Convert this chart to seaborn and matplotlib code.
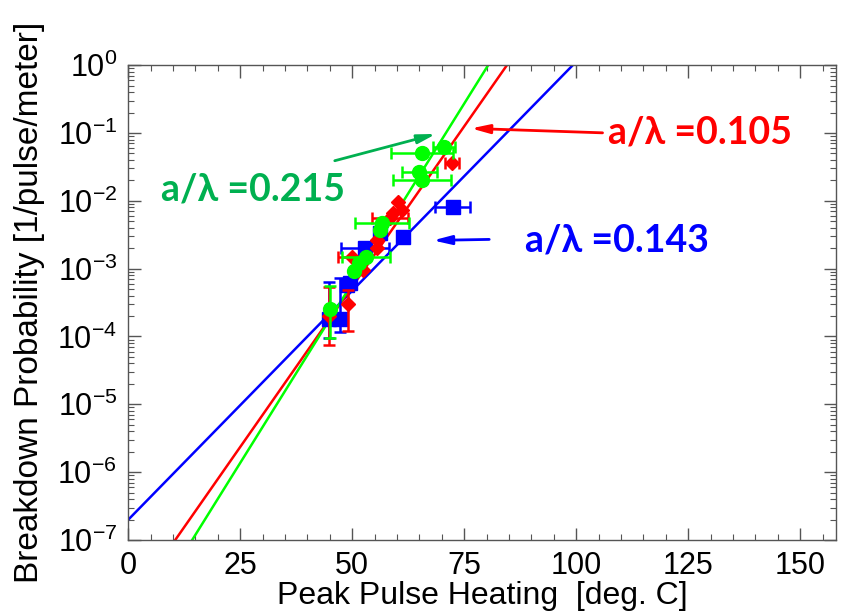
import numpy as np
import seaborn as sns
import matplotlib
matplotlib.use('Agg')
import matplotlib.pyplot as plt
import pandas as pd
from matplotlib.ticker import MultipleLocator, LogLocator, NullFormatter

sns.set_theme(style="ticks")
plt.rcParams['font.family'] = ['Liberation Sans', 'DejaVu Sans']
plt.rcParams['mathtext.fontset'] = 'custom'
plt.rcParams['mathtext.rm'] = 'Liberation Sans'
plt.rcParams['mathtext.default'] = 'regular'
plt.rcParams['text.color'] = 'black'
plt.rcParams['axes.labelcolor'] = 'black'
plt.rcParams['xtick.labelcolor'] = 'black'
plt.rcParams['ytick.labelcolor'] = 'black'

# measured points (heating in deg C, breakdown prob in 1/pulse/meter)
blue_x = [72.4, 61.3, 56.3, 52.9, 49.6, 48.8, 44.9, 47.2]
blue_y = [0.0080, 0.0029, 0.0034, 0.0020, 0.00062, 0.00058, 0.00018, 0.00018]
blue_xerr = [4.0, 0, 0, 5.4, 0, 0, 0, 0]
blue_ylo = [0, 0, 0, 0, 0, 0, 0.000085, 0.000063]
blue_yhi = [0, 0, 0, 0, 0, 0, 0.00045, 0.00054]

red_x = [72.3, 60.3, 61.1, 59.2, 58.5, 55.5, 55.5, 49.9, 52.5, 49.0, 44.9]
red_y = [0.036, 0.0097, 0.0073, 0.0066, 0.0056, 0.0026, 0.0020, 0.0015, 0.00096, 0.00030, 0.00020]
red_xerr = [1.5, 0, 0, 0, 4.0, 0, 0, 3.0, 0, 0, 0]
red_ylo = [0, 0, 0, 0, 0, 0, 0, 0, 0, 0.00018, 0.000125]
red_yhi = [0, 0, 0, 0, 0, 0, 0, 0, 0, 0.00018, 0.00034]

green_x = [65.6, 70.5, 65.0, 65.6, 56.6, 56.3, 53.1, 51.4, 50.3, 45.1]
green_y = [0.050, 0.063, 0.027, 0.020, 0.0047, 0.0037, 0.0015, 0.0012, 0.00091, 0.00025]
green_xerr = [7.0, 2.5, 4.0, 6.5, 6.0, 0, 5.3, 0, 0, 0]
green_ylo = [0, 0, 0, 0, 0, 0, 0, 0, 0, 0.000156]
green_yhi = [0, 0, 0, 0, 0, 0, 0, 0, 0, 0.00031]

# exponential fits: log10(P) = a + b*T
fit_a = {"blue": -6.70, "red": -7.99, "green": -8.51}
fit_b = {"blue": 0.0675, "red": 0.0945, "green": 0.1059}

labels = {"blue": "a/\u03bb =0.143", "red": "a/\u03bb =0.105", "green": "a/\u03bb =0.215"}

c_blue = "#0000ff"
c_red = "#ff0000"
c_green = "#00ff00"
txt_green = "#00b050"

fig, ax = plt.subplots(figsize=(8.44, 6.14), dpi=100)
fig.subplots_adjust(left=0.152, right=0.9905, bottom=0.1205, top=0.894)

T = np.linspace(0, 158, 400)
rows = []
for name in ["blue", "red", "green"]:
    for t in T:
        rows.append((name, t, 10 ** (fit_a[name] + fit_b[name] * t)))
fits = pd.DataFrame(rows, columns=["set", "T", "P"])
sns.lineplot(data=fits, x="T", y="P", hue="set",
             palette={"blue": c_blue, "red": c_red, "green": c_green},
             linewidth=1.8, legend=False, ax=ax, zorder=2)

sets = [
    (blue_x, blue_y, blue_xerr, blue_ylo, blue_yhi, c_blue, "s", 10),
    (red_x, red_y, red_xerr, red_ylo, red_yhi, c_red, "D", 7),
    (green_x, green_y, green_xerr, green_ylo, green_yhi, c_green, "o", 10),
]
z = 3
for xs, ys, xe, ylo, yhi, col, mk, ms in sets:
    ax.errorbar(xs, ys, xerr=xe, yerr=[ylo, yhi], fmt="none", ecolor=col,
                elinewidth=1.8, capsize=4.5, capthick=1.8, zorder=z)
    ax.plot(xs, ys, linestyle="none", marker=mk, markersize=ms, color=col,
            markeredgecolor=col, zorder=z + 0.5)
    z += 1

ax.set_yscale("log")
ax.set_xlim(0, 158)
ax.set_ylim(1e-7, 1)

ax.xaxis.set_major_locator(MultipleLocator(25))
ax.xaxis.set_minor_locator(MultipleLocator(5))
ax.yaxis.set_major_locator(LogLocator(base=10, numticks=20))
ax.yaxis.set_minor_locator(LogLocator(base=10, subs=np.arange(2, 10), numticks=20))
ax.yaxis.set_minor_formatter(NullFormatter())
ax.tick_params(which="both", direction="in", top=True, right=True, color="#555555")
ax.tick_params(which="major", length=9, width=1.0)
ax.tick_params(which="minor", length=4.5, width=0.8)
ax.tick_params(axis="both", labelsize=22, pad=8)
for sp in ax.spines.values():
    sp.set_color("#555555")
    sp.set_linewidth(1.0)

ax.set_xlabel("Peak Pulse Heating  [deg. C]", fontsize=23)
ax.xaxis.set_label_coords(0.5, -0.086)
ax.set_ylabel("Breakdown Probability [1/pulse/meter]", fontsize=24)
ax.yaxis.set_label_coords(-0.118, 0.5)

# annotations
ax.annotate("", xy=(69.3, 0.099), xytext=(45.5, 0.038),
            arrowprops=dict(arrowstyle="-|>,head_length=0.9,head_width=0.22",
                            color=txt_green, lw=2))
ax.annotate("", xy=(75.9, 0.117), xytext=(106.5, 0.100),
            arrowprops=dict(arrowstyle="-|>,head_length=0.9,head_width=0.22",
                            color=c_red, lw=2))
ax.annotate("", xy=(67.4, 0.0026), xytext=(81.2, 0.0027),
            arrowprops=dict(arrowstyle="-|>,head_length=0.9,head_width=0.22",
                            color=c_blue, lw=2))

ax.text(127.7, 0.100, labels["red"], color=c_red, fontsize=27, fontweight="bold",
        family=['Lato', 'DejaVu Sans'], ha="center", va="center")
ax.text(27.9, 0.0145, labels["green"], color=txt_green, fontsize=27, fontweight="bold",
        family=['Lato', 'DejaVu Sans'], ha="center", va="center")
ax.text(109.2, 0.0026, labels["blue"], color=c_blue, fontsize=27, fontweight="bold",
        family=['Lato', 'DejaVu Sans'], ha="center", va="center")

fig.savefig("out.png", dpi=100)
